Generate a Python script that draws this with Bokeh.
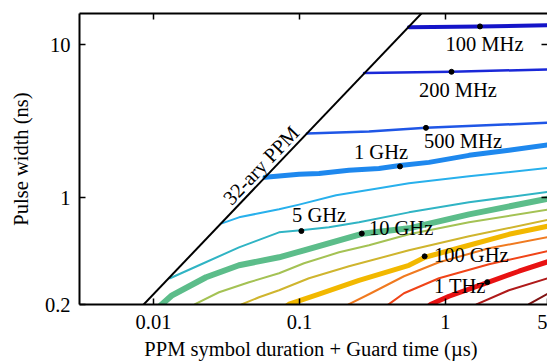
import numpy as np
from bokeh.plotting import figure
from bokeh.models import LogAxis, FixedTicker, Range1d, ColumnDataSource
from bokeh.core.properties import value
from bokeh.embed import file_html
from bokeh.resources import INLINE

# x: PPM symbol duration + guard time (us), y: pulse width (ns)
x_ticks = [0.01, 0.1, 1, 5]
x_tick_labels = ["0.01", "0.1", "1", "5"]
y_ticks = [0.2, 1, 10]
y_tick_labels = ["0.2", "1", "10"]

ppm_x = [0.0077, 0.77]
ppm_y = [0.18, 18.0]

c100M_x = [0.562, 1.723, 5.2]
c100M_y = [13.03, 13.17, 13.4]
c200M_x = [0.277, 1.10, 5.2]
c200M_y = [6.52, 6.65, 6.9]
c500M_x = [0.1125, 0.299, 0.735, 5.2]
c500M_y = [2.63, 2.71, 2.86, 3.09]
c1G_x = [0.058, 0.0993, 0.136, 0.218, 0.35, 0.488, 0.771, 1.45, 2.72, 5.2]
c1G_y = [1.357, 1.42, 1.44, 1.508, 1.55, 1.62, 1.70, 1.89, 2.04, 2.22]
c2G_x = [0.0294, 0.0385, 0.0528, 0.0724, 0.0993, 0.178, 0.35, 0.562, 1.45, 5.2]
c2G_y = [0.679, 0.743, 0.79, 0.839, 0.90, 1.035, 1.15, 1.24, 1.378, 1.57]
c5G_x = [0.01297, 0.0205, 0.0385, 0.0724, 0.1024, 0.159, 0.2556, 0.562, 1.45, 5.2]
c5G_y = [0.297, 0.361, 0.473, 0.593, 0.611, 0.640, 0.690, 0.801, 0.932, 1.095]
c10G_x = [0.0105, 0.01143, 0.01339, 0.0229, 0.0385, 0.0724, 0.1074, 0.268, 0.562, 1.45, 5.2]
c10G_y = [0.186, 0.201, 0.2298, 0.3014, 0.361, 0.4073, 0.4525, 0.58, 0.630, 0.7776, 0.99]
c20G_x = [0.0175, 0.01924, 0.0281, 0.0451, 0.0724, 0.1074, 0.1866, 0.299, 0.562, 1.45, 5.2]
c20G_y = [0.186, 0.201, 0.2405, 0.2795, 0.320, 0.372, 0.439, 0.488, 0.5756, 0.690, 0.84]
c50G_x = [0.0361, 0.0404, 0.0528, 0.0724, 0.1161, 0.2183, 0.562, 1.45, 5.2]
c50G_y = [0.186, 0.201, 0.223, 0.2478, 0.297, 0.3556, 0.4525, 0.5585, 0.72]
c100G_x = [0.0759, 0.0848, 0.136, 0.2556, 0.562, 0.724, 1.45, 2.72, 5.2]
c100G_y = [0.186, 0.201, 0.2334, 0.288, 0.361, 0.4073, 0.4879, 0.5756, 0.655]
c200G_x = [0.1955, 0.2183, 0.299, 0.5196, 0.903, 1.986, 5.2]
c200G_y = [0.186, 0.201, 0.2334, 0.306, 0.3777, 0.4662, 0.555]
c500G_x = [0.3673, 0.410, 0.5196, 0.903, 1.986, 5.2]
c500G_y = [0.186, 0.201, 0.2368, 0.297, 0.3664, 0.45]
c1T_x = [0.724, 0.7957, 1.057, 1.954, 3.187, 5.2]
c1T_y = [0.186, 0.201, 0.2264, 0.2795, 0.330, 0.385]
c2T_x = [1.472, 1.644, 2.72, 5.2]
c2T_y = [0.186, 0.201, 0.2478, 0.30]
c5T_x = [3.449, 3.732, 5.2]
c5T_y = [0.186, 0.201, 0.24]

curves = [
    (c100M_x, c100M_y, "#1414c8", 4),
    (c200M_x, c200M_y, "#1a28d8", 2.5),
    (c500M_x, c500M_y, "#1f56e6", 2.5),
    (c1G_x, c1G_y, "#1e88ee", 5),
    (c2G_x, c2G_y, "#28b0ec", 2),
    (c5G_x, c5G_y, "#30b4c4", 2),
    (c10G_x, c10G_y, "#5cbd8a", 6),
    (c20G_x, c20G_y, "#a4c254", 2),
    (c50G_x, c50G_y, "#cfb52e", 2),
    (c100G_x, c100G_y, "#f2b800", 5),
    (c200G_x, c200G_y, "#f07a20", 2),
    (c500G_x, c500G_y, "#f04418", 2),
    (c1T_x, c1T_y, "#e81212", 5),
    (c2T_x, c2T_y, "#b01a1a", 2),
    (c5T_x, c5T_y, "#801414", 2),
]

label_text = ["100 MHz", "200 MHz", "500 MHz", "1 GHz", "5 GHz", "10 GHz", "100 GHz", "1 THz"]
label_x = [1.0, 0.658, 0.7124, 0.2362, 0.0889, 0.299, 0.834, 0.834]
label_y = [9.11, 4.56, 2.10, 1.793, 0.690, 0.567, 0.3777, 0.2368]
dot_x = [1.723, 1.10, 0.735, 0.488, 0.103, 0.267, 0.720, 1.933]
dot_y = [13.17, 6.65, 2.86, 1.60, 0.605, 0.582, 0.413, 0.280]

ppm_label = ["32-ary PPM"]
ppm_label_x = [0.0571]
ppm_label_y = [1.485]

FONT = "Liberation Serif"
FS = "20.5px"

p = figure(width=547, height=363, x_axis_type="log", y_axis_type="log",
           x_range=Range1d(0.00311, 5.0), y_range=Range1d(0.2, 16.0),
           output_backend="svg", toolbar_location=None,
           min_border_left=79, min_border_right=0, min_border_top=13, min_border_bottom=59)
p.outline_line_color = None
p.grid.visible = False
p.background_fill_color = "white"
p.border_fill_color = "white"

for cx, cy, col, lw in curves:
    p.line(cx, cy, line_color=col, line_width=lw, line_cap="round", line_join="round")

p.line(ppm_x, ppm_y, line_color="black", line_width=2)

p.scatter(dot_x, dot_y, size=5, color="black")

src = ColumnDataSource(dict(x=label_x, y=label_y, t=label_text))
p.text(x="x", y="y", text="t", source=src, text_font=value(FONT), text_font_size=value(FS),
       text_color="black", text_align="left", text_baseline="alphabetic", y_offset=-7)
p.text(x=ppm_label_x, y=ppm_label_y, text=ppm_label, angle=0.81, text_font=value(FONT),
       text_font_size=value(FS), text_color="black", text_align="center",
       text_baseline="alphabetic", x_offset=-3, y_offset=-6)

def style(ax):
    ax.axis_line_width = 2
    ax.axis_line_color = "black"
    ax.major_tick_in = 6
    ax.major_tick_out = 0
    ax.major_tick_line_width = 1.5
    ax.major_tick_line_color = "black"
    ax.minor_tick_line_color = None
    ax.major_label_text_font = FONT
    ax.major_label_text_font_size = FS
    ax.major_label_text_color = "black"
    ax.axis_label_text_font = FONT
    ax.axis_label_text_font_size = FS
    ax.axis_label_text_font_style = "normal"
    ax.axis_label_text_color = "black"

xa = p.xaxis[0]
style(xa)
xa.ticker = FixedTicker(ticks=x_ticks)
xa.major_label_overrides = {t: s for t, s in zip(x_ticks, x_tick_labels)}
xa.axis_label = "PPM symbol duration + Guard time  (\u00b5s)"
xa.major_label_standoff = 10
xa.axis_label_standoff = 6

ya = p.yaxis[0]
style(ya)
ya.ticker = FixedTicker(ticks=y_ticks)
ya.major_label_overrides = {t: s for t, s in zip(y_ticks, y_tick_labels)}
ya.axis_label = "Pulse width (ns)"
ya.major_label_standoff = 9
ya.axis_label_standoff = 10

top = LogAxis(ticker=FixedTicker(ticks=x_ticks[:3]))
style(top)
top.major_label_text_font_size = "1px"
top.major_label_text_color = None
top.major_label_standoff = 0
p.add_layout(top, "above")

right = LogAxis(ticker=FixedTicker(ticks=y_ticks[1:]))
style(right)
right.axis_line_color = None
right.major_label_text_font_size = "1px"
right.major_label_text_color = None
right.major_label_standoff = 0
p.add_layout(right, "right")

open("out.html", "w").write(file_html(p, INLINE))
